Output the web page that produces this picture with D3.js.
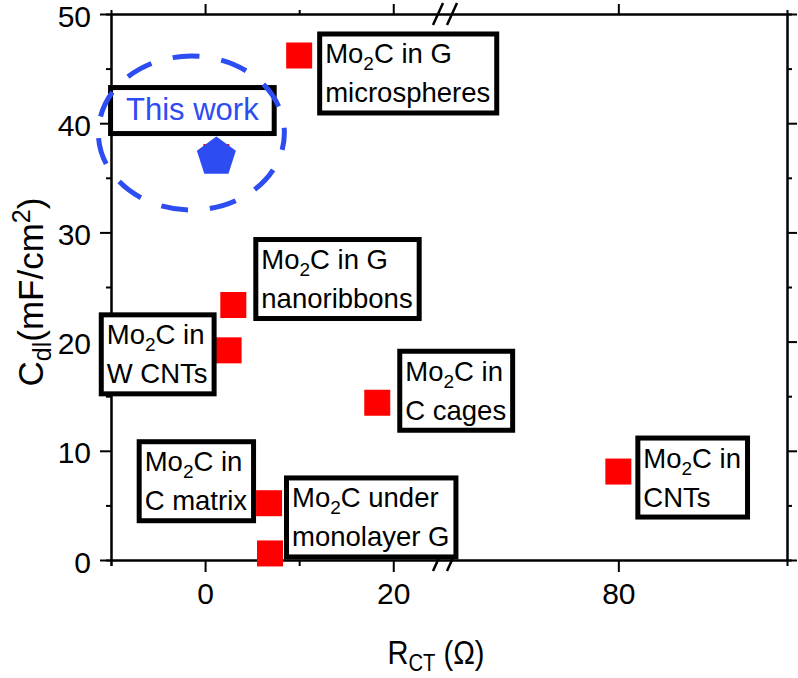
<!DOCTYPE html>
<html>
<head>
<meta charset="utf-8">
<script src="https://cdn.jsdelivr.net/npm/d3@7/dist/d3.min.js"></script>
<style>
  body { margin: 0; background: #fff; }
  svg text { font-family: "Liberation Sans", Arial, sans-serif; }
</style>
</head>
<body>
<svg id="chart" width="798" height="678"></svg>
<script>
// data
const names = ["microspheres", "nanoribbons", "W CNTs", "C cages", "C matrix", "monolayer G", "CNTs"];
const rct = [10, 3, 2.5, 18.3, 6.8, 6.9, 80];
const cdl = [46.2, 23.35, 19.2, 14.4, 5.2, 0.6, 8.1];
const line1 = ["Mo2C in G", "Mo2C in G", "Mo2C in", "Mo2C in", "Mo2C in", "Mo2C under", "Mo2C in"];
const line2 = ["microspheres", "nanoribbons", "W CNTs", "C cages", "C matrix", "monolayer G", "CNTs"];
const thisWork = { rct: 1.2, cdl: 36.9, label: "This work" };

const xMajor = [0, 20, 80];
const xMinor = [-10, 10];
const yMajor = [0, 10, 20, 30, 40, 50];
const yMinor = [5, 15, 25, 35, 45];

// label box placement relative to each point (px)
const boxOffset = [
  { dx: 18, dy: -24, side: "right" },
  { dx: 20, dy: -68, side: "right" },
  { dx: -12, dy: -38, side: "left" },
  { dx: 20, dy: -54, side: "right" },
  { dx: -13, dy: -64, side: "left" },
  { dx: 14, dy: -78, side: "right" },
  { dx: 17, dy: -36, side: "right" }
];

const red = "#ff0000";
const blue = "#2d4cf2";
const mLeft = 111, mRight = 787, mTop = 14, mBottom = 560;
const breakX = 445;

const svg = d3.select("#chart");

// broken x axis: a piecewise scale with the gap collapsed to one pixel column
const x = d3.scaleLinear()
  .domain([-10, 25.5, 61.5, 98])
  .range([mLeft, breakX, breakX, mRight]);
const y = d3.scaleLinear().domain([0, 50]).range([mBottom, mTop]);

const styleAxis = (g) => {
  g.selectAll(".domain").attr("stroke", "#000").attr("stroke-width", 2);
  g.selectAll(".tick line").attr("stroke", "#000").attr("stroke-width", 2);
  g.selectAll(".tick text").attr("fill", "#000").style("font-size", "30px");
};

// left
svg.append("g").attr("transform", `translate(${mLeft},0)`)
  .call(d3.axisLeft(y).tickValues(yMajor).tickSize(11).tickSizeOuter(0).tickPadding(9))
  .call(styleAxis).selectAll(".tick text").attr("dy", "0.4em");
svg.append("g").attr("transform", `translate(${mLeft},0)`)
  .call(d3.axisLeft(y).tickValues(yMinor).tickSize(5).tickFormat(""))
  .call(styleAxis);
// right
svg.append("g").attr("transform", `translate(${mRight},0)`)
  .call(d3.axisRight(y).tickValues(yMajor).tickSize(10).tickSizeOuter(0).tickFormat(""))
  .call(styleAxis);
svg.append("g").attr("transform", `translate(${mRight},0)`)
  .call(d3.axisRight(y).tickValues(yMinor).tickSize(5).tickFormat(""))
  .call(styleAxis);
// bottom
svg.append("g").attr("transform", `translate(0,${mBottom})`)
  .call(d3.axisBottom(x).tickValues(xMajor).tickSize(12).tickSizeOuter(0).tickPadding(11))
  .call(styleAxis);
svg.append("g").attr("transform", `translate(0,${mBottom})`)
  .call(d3.axisBottom(x).tickValues(xMinor).tickSize(6).tickFormat(""))
  .call(styleAxis);
// top
svg.append("g").attr("transform", `translate(0,${mTop})`)
  .call(d3.axisTop(x).tickValues(xMajor).tickSize(10).tickSizeOuter(0).tickFormat(""))
  .call(styleAxis);
svg.append("g").attr("transform", `translate(0,${mTop})`)
  .call(d3.axisTop(x).tickValues([10]).tickSize(4).tickFormat(""))
  .call(styleAxis);

// axis break marks
[mTop, mBottom].forEach((yy) => {
  [-7, 7].forEach((off) => {
    svg.append("line")
      .attr("x1", breakX + off - 5).attr("y1", yy + 11)
      .attr("x2", breakX + off + 5).attr("y2", yy - 11)
      .attr("stroke", "#000").attr("stroke-width", 2.5);
  });
});

// axis titles
const xt = svg.append("text")
  .attr("transform", "translate(436,664) scale(0.88,1)")
  .attr("text-anchor", "middle")
  .style("font-size", "33px");
xt.append("tspan").text("R");
xt.append("tspan").attr("dy", 7).style("font-size", "23px").text("CT");
xt.append("tspan").attr("dy", -7).text(" (\u03A9)");

const yt = svg.append("text")
  .attr("transform", "translate(43,292) rotate(-90)")
  .attr("text-anchor", "middle")
  .style("font-size", "35px");
yt.append("tspan").text("C");
yt.append("tspan").attr("dy", 8).style("font-size", "25px").text("dl");
yt.append("tspan").attr("dy", -8).text("(mF/cm");
yt.append("tspan").attr("dy", -13).style("font-size", "25px").text("2");
yt.append("tspan").attr("dy", 13).text(")");

// points
const sq = 26;
svg.append("g").selectAll("rect")
  .data(rct.map((d, i) => ({ x: d, y: cdl[i] })).concat([{ x: thisWork.rct, y: thisWork.cdl }]))
  .join("rect")
  .attr("x", (d) => x(d.x) - sq / 2)
  .attr("y", (d) => y(d.y) - sq / 2)
  .attr("width", sq).attr("height", sq)
  .attr("fill", red);

// label boxes
const fs = 27.5;
function addMo2C(textSel, str) {
  // "Mo2C rest" -> Mo, subscript 2, C rest
  const rest = str.slice(4);
  textSel.append("tspan").text("Mo");
  textSel.append("tspan").attr("dy", 7).style("font-size", "19px").text("2");
  textSel.append("tspan").attr("dy", -7).text("C" + rest);
}

names.forEach((n, i) => {
  const px = x(rct[i]), py = y(cdl[i]);
  const off = boxOffset[i];
  const g = svg.append("g");
  const rect = g.append("rect");
  const t1 = g.append("text").style("font-size", fs + "px");
  addMo2C(t1, line1[i]);
  const t2 = g.append("text").style("font-size", fs + "px").text(line2[i]);
  const w = Math.max(t1.node().getComputedTextLength(), t2.node().getComputedTextLength()) + 17;
  const h = 84;
  const bx = off.side === "right" ? px + off.dx : px + off.dx - w;
  const by = py + off.dy;
  rect.attr("x", bx + 2.5).attr("y", by + 2.5)
    .attr("width", w - 5).attr("height", h - 5)
    .attr("fill", "#fff").attr("stroke", "#000").attr("stroke-width", 5);
  t1.attr("x", bx + 8).attr("y", by + 32);
  t2.attr("x", bx + 8).attr("y", by + 71);
});

// this work: box, pentagon, dashed ring
const twx = x(thisWork.rct), twy = y(thisWork.cdl);
const twG = svg.append("g");
const twRect = twG.append("rect");
const twText = twG.append("text")
  .attr("x", twx - 24).attr("y", twy - 37)
  .attr("text-anchor", "middle")
  .attr("fill", blue)
  .style("font-size", "31px")
  .text(thisWork.label);
const tw = twText.node().getComputedTextLength();
twRect.attr("x", twx - 24 - tw / 2 - 18 + 2.5).attr("y", twy - 72 + 2.5)
  .attr("width", tw + 36 - 5).attr("height", 51 - 5)
  .attr("fill", "#fff").attr("stroke", "#000").attr("stroke-width", 5);

const r = 20.5;
const pent = d3.range(5).map((k) => {
  const a = -Math.PI / 2 + k * 2 * Math.PI / 5;
  return [twx + r * Math.cos(a), twy + r * Math.sin(a)];
});
svg.append("polygon")
  .attr("points", pent.map((p) => p.join(",")).join(" "))
  .attr("fill", blue);

svg.append("ellipse")
  .attr("cx", twx - 25).attr("cy", twy - 24)
  .attr("rx", 93).attr("ry", 77)
  .attr("fill", "none")
  .attr("stroke", blue)
  .attr("stroke-width", 5)
  .attr("stroke-dasharray", "27,22")
  .attr("stroke-dashoffset", 10);
</script>
</body>
</html>
